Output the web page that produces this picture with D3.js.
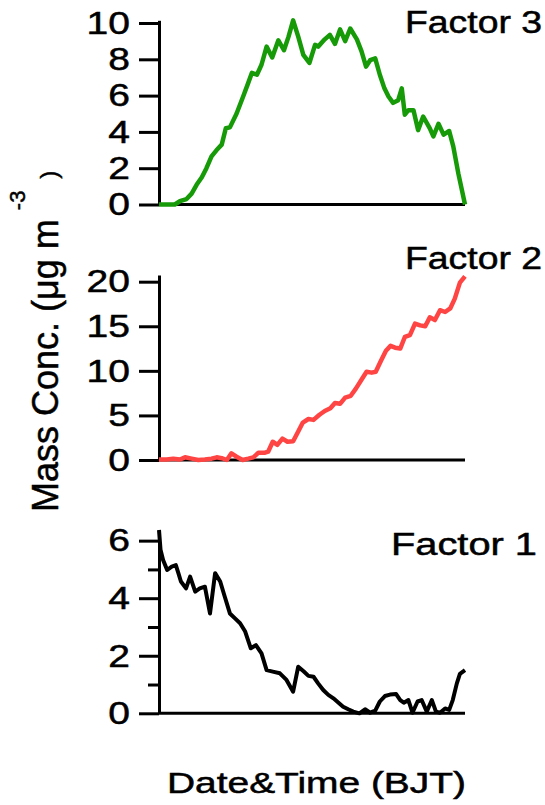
<!DOCTYPE html>
<html><head><meta charset="utf-8">
<script src="https://cdn.jsdelivr.net/npm/d3@7"></script>
<style>body{margin:0;background:#fff}svg{display:block}</style>
</head><body>
<script>
// ---- DATA (time in hours from start of period, mass concentration in µg m-3) ----
const f3Hours = [0,3.1,4.1,5.4,6.4,7.4,8.4,9.3,10.3,11.3,12.3,13.1,13.9,15.2,16.5,17.5,18.2,19.2,20.1,21.1,22.2,23.4,24.5,25.4,26.3,27.3,28.3,29.5,30.6,31.2,32.5,33.5,34.5,35.5,36.5,37.5,38.8,39.7,40.6,41.4,42.4,43.3,44.2,45.0,45.9,46.9,47.6,48.2,48.9,49.9,50.8,51.8,53.1,53.8,54.8,55.8,56.9,57.7,58.7,60];
const f3Values = [0,0,0.18,0.3,0.6,1.1,1.5,2.0,2.65,3.0,3.3,4.2,4.25,5.0,5.95,6.7,7.25,7.15,7.7,8.7,8.1,9.05,8.5,9.25,10.15,9.25,8.25,7.8,8.8,8.7,9.1,9.35,8.85,9.65,9.0,9.7,9.1,8.45,7.6,7.95,8.05,7.15,6.4,5.95,5.6,5.75,6.4,4.95,5.2,5.2,4.1,4.85,4.2,3.75,4.45,3.85,4.05,3.2,1.7,0];

const f2Hours = [0,1.5,2.8,4.1,5.1,6.4,7.7,9.0,10.3,11.3,12.3,13.3,14.2,15.2,16.4,17.5,18.5,19.5,20.8,21.4,22.3,23.2,24.2,25.2,26.3,27.3,28.2,29.3,30.3,31.4,32.5,33.6,34.5,35.5,36.5,37.6,38.6,39.7,40.7,41.7,42.5,43.5,44.5,45.4,46.3,47.3,48.2,49.2,50.2,51.2,52.2,53.1,54.1,55.1,56.1,57.1,58.0,59.0,60];
const f2Values = [0.05,0.05,0.15,0.05,0.3,0.15,0,0.05,0.15,0.3,0.2,0,0.75,0.37,0,0.15,0.3,0.82,0.82,0.93,2.05,1.7,2.4,2.05,2.1,3.2,4.2,4.6,4.5,5.05,5.5,5.8,6.4,6.3,7.0,7.2,8.0,9.0,9.9,9.8,9.9,11.1,12.25,12.8,12.6,12.5,13.8,14.0,15.3,15.1,15.0,16.0,15.7,16.8,16.6,17.0,18.1,19.9,20.6];

const f1Hours = [0,0.3,0.8,1.6,2.5,3.3,3.8,4.3,5.3,6.1,7.1,8.0,9.0,10.0,11.0,12.0,12.9,13.9,14.9,15.9,16.9,18.0,19.0,20.1,21.1,22.3,23.7,25.0,26.3,27.3,28.4,29.3,30.3,31.2,32.2,33.2,34.2,35.2,36.1,37.1,38.1,39.3,40.4,41.4,42.4,43.3,44.3,45.3,46.5,47.3,48.0,48.9,49.7,50.7,51.5,52.5,53.5,54.3,55.1,56.1,56.9,57.6,58.4,59.0,60];
const f1Values = [6.37,5.68,5.33,4.98,5.1,5.15,4.87,4.58,4.34,4.75,4.23,4.34,4.4,3.47,4.87,4.58,4.05,3.47,3.3,3.13,2.84,2.26,2.37,2.08,1.5,1.45,1.39,1.16,0.75,1.62,1.45,1.3,1.27,1.04,0.81,0.64,0.52,0.37,0.23,0.14,0.06,0,0.14,0.02,0.09,0.41,0.6,0.65,0.67,0.46,0.37,0.46,0.02,0.41,0.46,0.06,0.46,0.06,0.02,0.17,0.12,0.46,1.04,1.37,1.5];

const f3Ticks = [0,2,4,6,8,10];
const f2Ticks = [0,5,10,15,20];
const f1MajorTicks = [0,2,4,6];
const f1MinorTicks = [1,3,5];
const factorNames = ["Factor 3","Factor 2","Factor 1"];
const xTitle = "Date&Time (BJT)";
const yTitleMain = "Mass Conc. (\u03bcg m";
const yTitleSup = "-3";
const yTitleEnd = ")";

// ---- DRAWING ----
const W = 545, H = 805;
const FONT = "'Liberation Sans', Arial, Helvetica, sans-serif";
const svg = d3.select("body").append("svg").attr("width", W).attr("height", H);
const x = d3.scaleLinear().domain([0, 60]).range([159, 465]);

const panels = [
  {name: factorNames[0], hours: f3Hours, values: f3Values, color: "#179a08", lw: 4.5,
   y: d3.scaleLinear().domain([0, 10.15]).range([204.5, 20.3]), major: f3Ticks, minor: [],
   tx: 405, ty: 33, tlen: 137},
  {name: factorNames[1], hours: f2Hours, values: f2Values, color: "#ff4444", lw: 4.5,
   y: d3.scaleLinear().domain([0, 20.75]).range([460, 275]), major: f2Ticks, minor: [],
   tx: 405, ty: 269, tlen: 137},
  {name: factorNames[2], hours: f1Hours, values: f1Values, color: "#000000", lw: 4,
   y: d3.scaleLinear().domain([0, 6.37]).range([713.3, 530]), major: f1MajorTicks, minor: f1MinorTicks,
   tx: 391, ty: 555, tlen: 146}
];

const SX = 1.22;
const TXT_STROKE = 0.5;
panels.forEach(p => {
  const g = svg.append("g");
  if (p.minor.length) {
    const gm = g.append("g").attr("transform", `translate(${x(0)},0)`)
      .call(d3.axisLeft(p.y).tickValues(p.minor).tickSize(11).tickSizeOuter(0).tickFormat(""));
    gm.select(".domain").remove();
    gm.selectAll("line").attr("stroke", "#000").attr("stroke-width", 3);
  }
  const ga = g.append("g").attr("transform", `translate(${x(0)},0)`)
    .call(d3.axisLeft(p.y).tickValues(p.major).tickSize(20).tickSizeOuter(0).tickPadding(9).tickFormat(d3.format("d")));
  ga.select(".domain").attr("stroke", "#000").attr("stroke-width", 3);
  ga.selectAll(".tick line").attr("stroke", "#000").attr("stroke-width", 3);
  ga.selectAll(".tick text")
    .attr("font-family", FONT).attr("font-size", 32).attr("fill", "#000")
    .attr("stroke", "#000").attr("stroke-width", TXT_STROKE)
    .attr("x", -29 / SX).attr("transform", `scale(${SX},1)`);
  g.append("line")
    .attr("x1", x(0)).attr("x2", x(60))
    .attr("y1", p.y(0)).attr("y2", p.y(0))
    .attr("stroke", "#000").attr("stroke-width", 3);
  const pts = p.hours.map((h, i) => [h, p.values[i]]);
  g.append("path").datum(pts)
    .attr("fill", "none").attr("stroke", p.color).attr("stroke-width", p.lw)
    .attr("stroke-linejoin", "round").attr("stroke-linecap", "butt")
    .attr("d", d3.line().x(d => x(d[0])).y(d => p.y(d[1])));
  g.append("text").attr("x", p.tx).attr("y", p.ty)
    .attr("font-family", FONT).attr("font-size", 31).attr("fill", "#000")
    .attr("stroke", "#000").attr("stroke-width", TXT_STROKE)
    .attr("textLength", p.tlen).attr("lengthAdjust", "spacingAndGlyphs")
    .text(p.name);
});

svg.append("text").attr("x", 167).attr("y", 793)
  .attr("font-family", FONT).attr("font-size", 29).attr("fill", "#000")
  .attr("stroke", "#000").attr("stroke-width", TXT_STROKE)
  .attr("textLength", 299).attr("lengthAdjust", "spacingAndGlyphs")
  .text(xTitle);

const yt = svg.append("text")
  .attr("transform", "translate(58,512) rotate(-90)")
  .attr("font-family", FONT).attr("font-size", 36).attr("fill", "#000")
  .attr("stroke", "#000").attr("stroke-width", TXT_STROKE);
yt.append("tspan").text(yTitleMain);
yt.append("tspan").attr("font-size", 22).attr("dx", 9).attr("dy", -33).text(yTitleSup);
yt.append("tspan").attr("font-size", 24).attr("dx", 12).attr("dy", 32).text(yTitleEnd);
</script>
</body></html>
